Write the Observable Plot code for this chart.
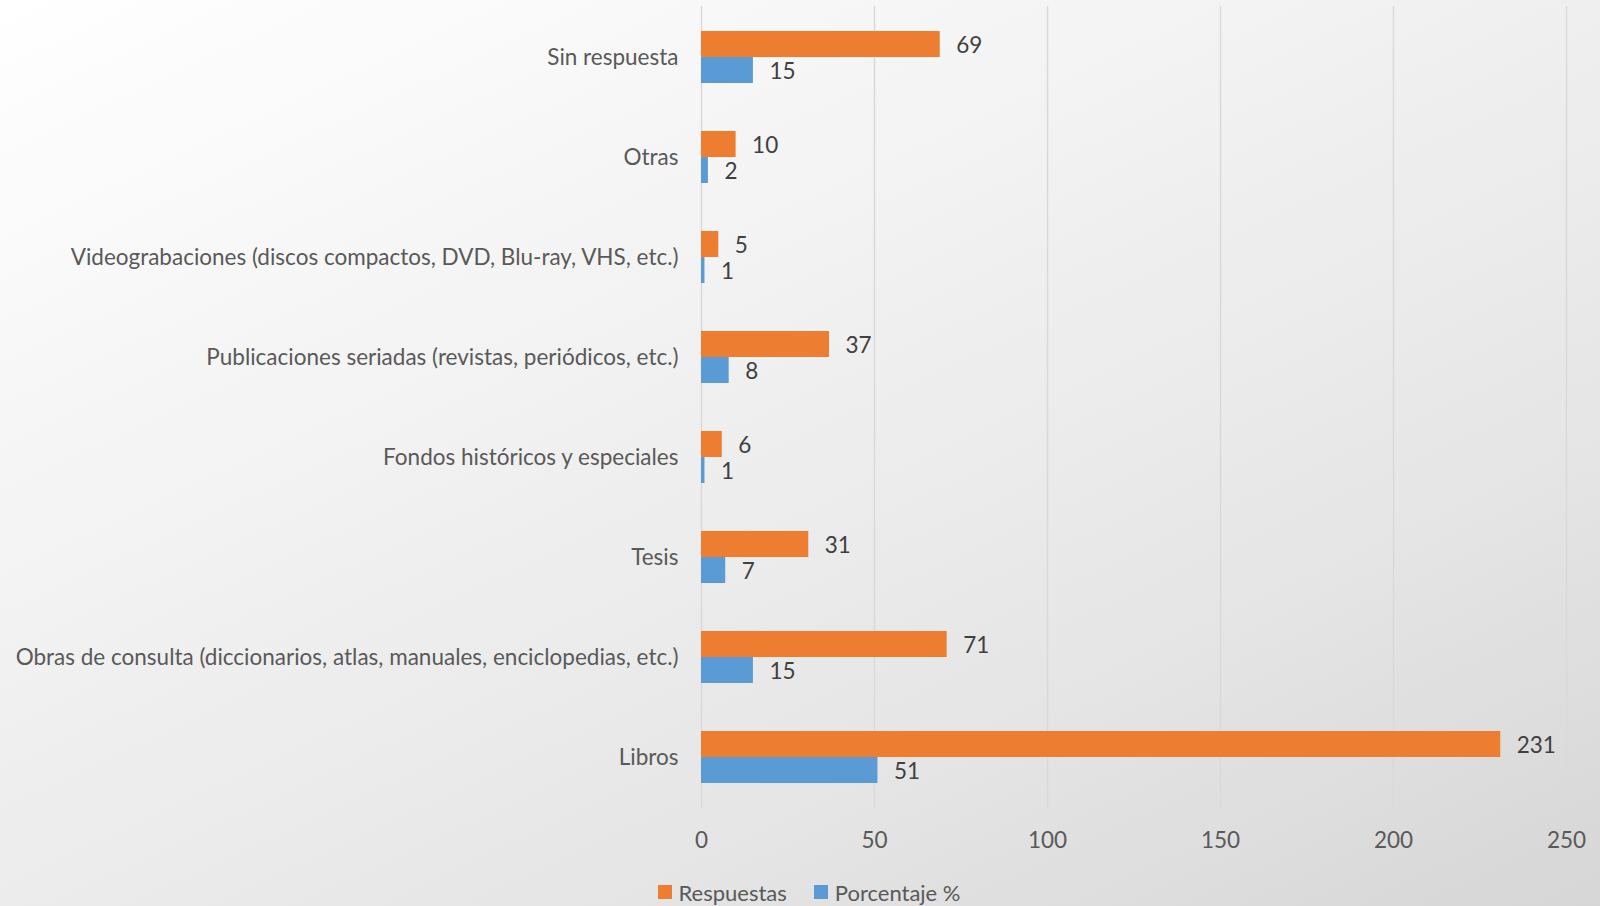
<!DOCTYPE html>
<html>
<head>
<meta charset="utf-8">
<script src="https://cdn.jsdelivr.net/npm/d3@7"></script>
<script src="https://cdn.jsdelivr.net/npm/@observablehq/plot@0.6"></script>
<style>
  html, body { margin: 0; padding: 0; }
  body {
    width: 1600px; height: 906px; overflow: hidden;
    background: linear-gradient(155deg, #ffffff 0%, #f3f3f3 35%, #e6e6e6 70%, #d6d6d6 100%);
    font-family: Lato, "Open Sans", sans-serif;
  }
  #chart svg { display: block; background: transparent !important; }
  #legend {
    display: flex; justify-content: center; align-items: center; gap: 27px;
    height: 40px; margin-top: 6px; padding-left: 18px;
    font-family: Lato, sans-serif; font-size: 22px; color: #595959;
  }
  #legend .item { display: flex; align-items: center; gap: 7px; }
  #legend .sw { width: 14px; height: 14px; display: inline-block; }
</style>
</head>
<body>
<div id="chart"></div>
<div id="legend"></div>
<script>
const categories = [
  "Sin respuesta",
  "Otras",
  "Videograbaciones (discos compactos, DVD, Blu-ray, VHS, etc.)",
  "Publicaciones seriadas (revistas, periódicos, etc.)",
  "Fondos históricos y especiales",
  "Tesis",
  "Obras de consulta (diccionarios, atlas, manuales, enciclopedias, etc.)",
  "Libros"
];
const respuestas = [69, 10, 5, 37, 6, 31, 71, 231];
const porcentaje = [15, 2, 1, 8, 1, 7, 15, 51];
const seriesNames = ["Respuestas", "Porcentaje %"];
const seriesColors = ["#ED7D31", "#5B9BD5"];
const xTicks = [0, 50, 100, 150, 200, 250];

const dataR = categories.map((c, i) => ({category: c, value: respuestas[i]}));
const dataP = categories.map((c, i) => ({category: c, value: porcentaje[i]}));

const textColor = "#595959";
const fontSize = 22.5;

const plot = Plot.plot({
  width: 1600,
  height: 866,
  marginLeft: 701,
  marginRight: 34,
  marginTop: 6,
  marginBottom: 58,
  style: {background: "transparent", fontFamily: "Lato, sans-serif", fontSize: fontSize + "px", color: textColor},
  x: {domain: [0, 250], ticks: xTicks, label: null},
  y: {domain: categories, padding: 0, label: null},
  marks: [
    Plot.gridX(xTicks, {stroke: "#d9d9d9", strokeOpacity: 1, strokeWidth: 1.5}),
    Plot.barX(dataR, {x: "value", y: "category", fill: seriesColors[0], insetTop: 24, insetBottom: 50}),
    Plot.barX(dataP, {x: "value", y: "category", fill: seriesColors[1], insetTop: 50, insetBottom: 24}),
    Plot.text(dataR, {x: "value", y: "category", text: d => String(d.value), dx: 16, dy: -12, textAnchor: "start", fill: "#404040", fontSize: fontSize}),
    Plot.text(dataP, {x: "value", y: "category", text: d => String(d.value), dx: 16, dy: 14, textAnchor: "start", fill: "#404040", fontSize: fontSize}),
    Plot.axisX(xTicks, {tickSize: 0, tickPadding: 24, fill: textColor, fontSize: fontSize, label: null}),
    Plot.axisY({tickSize: 0, tickPadding: 23, fill: textColor, fontSize: fontSize, label: null})
  ]
});
document.getElementById("chart").appendChild(plot);

const legend = document.getElementById("legend");
seriesNames.forEach((n, i) => {
  const item = document.createElement("span");
  item.className = "item";
  const sw = document.createElement("span");
  sw.className = "sw";
  sw.style.background = seriesColors[i];
  const t = document.createElement("span");
  t.textContent = n;
  item.appendChild(sw);
  item.appendChild(t);
  legend.appendChild(item);
});
</script>
</body>
</html>
